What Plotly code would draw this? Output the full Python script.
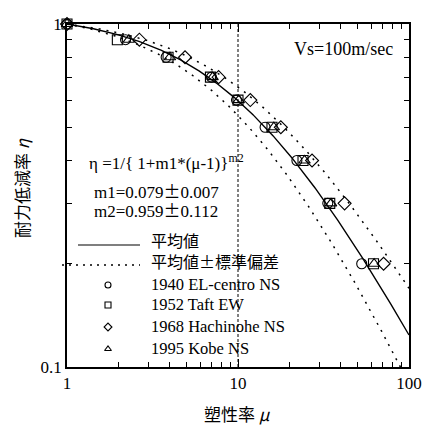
import numpy as np
import plotly.graph_objects as go

# Strength reduction factor eta at each target level, and ductility mu per record
eta_levels = [1.0, 0.9, 0.8, 0.7, 0.6, 0.5, 0.4, 0.3, 0.2]
mu_elcentro = [1.0, 2.2, 3.8, 7.0, 9.8, 14.4, 22.1, 33.5, 52.9]
mu_taft = [1.0, 1.97, 3.9, 6.9, 10.0, 15.8, 24.0, 34.4, 62.0]
mu_hachinohe = [1.0, 2.65, 4.9, 7.7, 11.8, 17.8, 27.1, 42.0, 71.0]
mu_kobe = [1.0, 2.3, 4.0, 7.1, 10.1, 16.2, 24.5, 35.0, 62.5]

# Regression parameters  eta = 1 / {1 + m1*(mu-1)}^m2
m1, m1_sd = 0.079, 0.007
m2, m2_sd = 0.959, 0.112

x_ticks = [1, 10, 100]
x_tick_text = ["1", "10", "100"]
y_ticks = [0.1, 1]
y_tick_text = ["0.1", "1"]

SERIF = "Liberation Serif, Noto Sans CJK JP"
CJK = "Noto Sans CJK JP, Liberation Serif"
PM = '<span style="font-family:Noto Sans CJK JP">±</span>'

W, H = 422, 427
L, R, T, B = 67, 13, 24, 60
pw, ph = W - L - R, H - T - B


def px(x):
    return (x - L) / pw


def py(y):
    return (H - B - y) / ph


def eta_fit(mu, a, b):
    return 1.0 / (1.0 + a * (mu - 1.0)) ** b


mu_grid = np.logspace(0, 2, 400)

fig = go.Figure()

# mean fit and +/- one standard deviation
fig.add_trace(go.Scatter(x=mu_grid, y=eta_fit(mu_grid, m1, m2), mode="lines",
                         line=dict(color="black", width=1.4), showlegend=False))
fig.add_trace(go.Scatter(x=mu_grid, y=eta_fit(mu_grid, m1 - m1_sd, m2 - m2_sd), mode="lines",
                         line=dict(color="black", width=1.5, dash="2px,6px"), showlegend=False))
fig.add_trace(go.Scatter(x=mu_grid, y=eta_fit(mu_grid, m1 + m1_sd, m2 + m2_sd), mode="lines",
                         line=dict(color="black", width=1.5, dash="2px,6px"), showlegend=False))

# reference line at mu = 10
fig.add_trace(go.Scatter(x=[10, 10], y=[0.1, 1], mode="lines",
                         line=dict(color="black", width=1, dash="3px,2px"), showlegend=False))

records = [
    (mu_elcentro, "circle-open"),
    (mu_taft, "square-open"),
    (mu_hachinohe, "diamond-open"),
    (mu_kobe, "triangle-up-open"),
]
for mus, sym in records:
    fig.add_trace(go.Scatter(x=mus, y=eta_levels, mode="markers", cliponaxis=False,
                             marker=dict(symbol=sym, size=10, color="black",
                                         line=dict(width=1.1, color="black")),
                             showlegend=False))

# legend drawn inside the plot on an overlay axis in paper-like units
leg_syms = ["circle-open", "square-open", "diamond-open", "triangle-up-open"]
leg_labels = ["1940 EL-centro NS", "1952 Taft EW", "1968 Hachinohe NS", "1995 Kobe NS"]
leg_rows = [285, 305, 327, 349]
for sym, yy in zip(leg_syms, leg_rows):
    fig.add_trace(go.Scatter(x=[px(108)], y=[py(yy)], mode="markers", xaxis="x2", yaxis="y2",
                             marker=dict(symbol=sym, size=6, color="black",
                                         line=dict(width=1.1, color="black")),
                             showlegend=False))

shapes = [
    dict(type="line", xref="paper", yref="paper", x0=px(78), x1=px(140), y0=py(245), y1=py(245),
         line=dict(color="black", width=1.2)),
    dict(type="line", xref="paper", yref="paper", x0=px(62), x1=px(140), y0=py(265), y1=py(265),
         line=dict(color="black", width=1.3, dash="2px,5px")),
]

annotations = [
    dict(text="Vs=100m/sec", x=px(343), y=py(49), xanchor="center", yanchor="middle",
         font=dict(family=SERIF, size=18, color="black")),
    dict(text="η =1/{ 1+m1*(μ-1)}<sup>m2</sup>", x=px(87), y=py(162), xanchor="left", yanchor="middle",
         font=dict(family=SERIF, size=17, color="black")),
    dict(text="m1=0.079" + PM + "0.007", x=px(92), y=py(190), xanchor="left", yanchor="middle",
         font=dict(family=SERIF, size=17, color="black")),
    dict(text="m2=0.959" + PM + "0.112", x=px(92), y=py(209), xanchor="left", yanchor="middle",
         font=dict(family=SERIF, size=17, color="black")),
    dict(text="平均値", x=px(149), y=py(240), xanchor="left", yanchor="middle",
         font=dict(family=CJK, size=16, color="black")),
    dict(text="平均値±標準偏差", x=px(149), y=py(261), xanchor="left", yanchor="middle",
         font=dict(family=CJK, size=16, color="black")),
    dict(text="塑性率 <i>μ</i>", x=px(237), y=py(413), xanchor="center", yanchor="middle",
         font=dict(family=CJK, size=17, color="black")),
    dict(text="耐力低減率 <i>η</i>", x=px(21), y=py(188), xanchor="center", yanchor="middle",
         textangle=-90, font=dict(family=CJK, size=17, color="black")),
]
for lab, yy in zip(leg_labels, leg_rows):
    annotations.append(dict(text=lab, x=px(149), y=py(yy - 1), xanchor="left", yanchor="middle",
                            font=dict(family=SERIF, size=16.5, color="black")))
for a in annotations:
    a.update(xref="paper", yref="paper", showarrow=False)

axis_common = dict(
    type="log", showgrid=False, zeroline=False, showline=True, linecolor="black", linewidth=1.5,
    mirror="ticks", ticks="inside", ticklen=8, tickwidth=1, tickcolor="black", automargin=False,
    tickfont=dict(family=SERIF, size=17, color="black"),
)

fig.update_layout(
    width=W, height=H,
    margin=dict(l=L, r=R, t=T, b=B),
    paper_bgcolor="white", plot_bgcolor="white",
    showlegend=False,
    xaxis=dict(axis_common, range=[0, 2], tickvals=x_ticks, ticktext=x_tick_text,
               minor=dict(tickvals=[2, 3, 4, 5, 6, 7, 8, 9, 20, 30, 40, 50, 60, 70, 80, 90],
                          ticks="inside", ticklen=5, tickwidth=1, tickcolor="black")),
    yaxis=dict(axis_common, range=[-1, 0], tickvals=y_ticks, ticktext=y_tick_text,
               minor=dict(tickvals=[0.2, 0.3, 0.4, 0.5, 0.6, 0.7, 0.8, 0.9],
                          ticks="inside", ticklen=5, tickwidth=1, tickcolor="black")),
    xaxis2=dict(range=[0, 1], overlaying="x", visible=False),
    yaxis2=dict(range=[0, 1], overlaying="y", visible=False),
    shapes=shapes,
    annotations=annotations,
)

fig.write_html("out.html")
